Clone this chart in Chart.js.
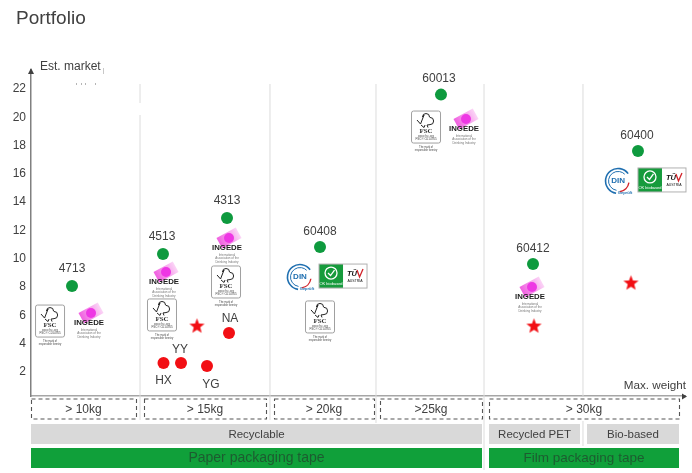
<!DOCTYPE html>
<html><head><meta charset="utf-8">
<script src="https://cdn.jsdelivr.net/npm/chart.js@4"></script>
<style>html,body{margin:0;padding:0;background:#fff}canvas{display:block}</style>
</head><body><canvas id="c" width="692" height="473" style="width:692px;height:473px"></canvas>
<script>
const yTicks=[2,4,6,8,10,12,14,16,18,20,22];
const columnEdges=[16.67,36.54,52.75,69.27,84.4];
const productNames=['4713','4513','4313','60408','60013','60412','60400'];
const productX=[6.27,20.18,29.97,44.19,62.69,76.76,92.81];
const productY=[8.08,10.34,12.88,10.83,21.6,9.63,17.62];
const rivalNames=['HX','YY','YG','NA'];
const rivalX=[20.26,22.94,26.91,30.28];
const rivalY=[2.64,2.64,2.42,4.76];
const starX=[25.38,76.91,91.74];
const starY=[5.25,5.25,8.29];
const fscX=[2.91,20.03,29.82,44.19,60.4];
const fscY=[5.6,6.03,8.36,5.89,19.31];
const ingedeX=[8.87,20.34,29.97,66.21,76.3];
const ingedeY=[5.46,8.36,10.76,19.17,7.3];
const dinX=[41.13,89.76];
const dinY=[8.71,15.5];
const tuvX=[47.71,96.48];
const tuvY=[8.78,15.57];
const weightLabels=['> 10kg','> 15kg','> 20kg','>25kg','> 30kg'];
const materialLabels=['Recyclable','Recycled PET','Bio-based'];
const tapeLabels=['Paper packaging tape','Film packaging tape'];

const TXT='#404040', SANS='"Liberation Sans",Arial,sans-serif';
const starCanvas=document.createElement('canvas');
starCanvas.width=starCanvas.height=17;
(function(){const g=starCanvas.getContext('2d');g.fillStyle='#f20f14';g.beginPath();
 for(let i=0;i<10;i++){const r=i%2?3.4:8,a=-Math.PI/2+i*Math.PI/5;g.lineTo(8.5+r*Math.cos(a),8.8+r*Math.sin(a));}
 g.closePath();g.fill();})();
function pts(xs,ys){return xs.map((x,i)=>({x:x,y:ys[i]}));}
function text(g,s,x,y,font,color,align){g.font=font;g.fillStyle=color;g.textAlign=align||'center';g.textBaseline='middle';g.fillText(s,x,y);}
function tiny(g,s,x,y,size,color){g.save();g.translate(x,y);g.scale(size/8,size/8);text(g,s,0,0,'8px '+SANS,color);g.restore();}

function drawFSC(g,x,y){
 g.save();g.strokeStyle='#a0a0a0';g.lineWidth=1;g.fillStyle='#fff';
 g.beginPath();g.roundRect(x-14.5,y-16,29,32,2);g.fill();g.stroke();
 g.strokeStyle='#222';g.lineWidth=1;g.beginPath();
 g.moveTo(x-9,y-7);g.lineTo(x-5.5,y-3);g.lineTo(x-2,y-12);
 g.arc(x,y-10,3.5,Math.PI,0);g.arc(x+4,y-6,3.6,-Math.PI/2,Math.PI/2);
 g.lineTo(x+1,y-2);g.lineTo(x+2,y+0.5);g.moveTo(x-1,y-2);g.lineTo(x-2,y+0.5);g.lineTo(x-5,y-2);g.stroke();
 text(g,'FSC',x,y+4,'bold 7px "Liberation Serif",serif','#333');
 tiny(g,'www.fsc.org',x,y+9,3,'#555');tiny(g,'FSC® C014765',x,y+12.5,3,'#444');
 tiny(g,'The mark of',x,y+20,2.6,'#444');tiny(g,'responsible forestry',x,y+23,2.6,'#444');
 g.restore();
}
function drawIngede(g,x,y){
 g.save();g.translate(x+2,y-10);g.rotate(-0.5);
 const gr=g.createLinearGradient(-11,0,11,0);gr.addColorStop(0,'#f05fe0');gr.addColorStop(1,'#fbd5f6');
 g.fillStyle=gr;g.fillRect(-11,-6,22,12);g.restore();
 g.fillStyle='#ee37e4';g.beginPath();g.arc(x+2,y-10,5,0,7);g.fill();
 text(g,'INGEDE',x,y,'bold 7.8px '+SANS,'#1c1c1c');
 tiny(g,'International',x,y+7,3,'#777');tiny(g,'Association of the',x,y+10.5,3,'#777');tiny(g,'Deinking Industry',x,y+14,3,'#777');
}
function drawDIN(g,x,y){
 g.save();g.lineWidth=1.6;g.strokeStyle='#1f6fb0';
 g.beginPath();g.arc(x,y,12.5,Math.PI*0.55,Math.PI*1.8);g.stroke();
 g.lineWidth=1;g.beginPath();g.arc(x,y,9.5,Math.PI*0.55,Math.PI*1.75);g.stroke();
 g.strokeStyle='#d2232a';g.lineWidth=1.4;g.beginPath();g.arc(x,y,11,Math.PI*0.05,Math.PI*0.45);g.stroke();
 text(g,'DIN',x,y,'bold 8px '+SANS,'#1f6fb0');
 text(g,'Geprüft',x+7,y+12,'bold 4px '+SANS,'#1f6fb0');g.restore();
}
function drawTUV(g,x,y){
 g.save();g.fillStyle='#fff';g.fillRect(x-24,y-12,48,24);
 g.fillStyle='#169b3c';g.fillRect(x-24,y-12,24,24);
 g.strokeStyle='#b0b0b0';g.lineWidth=1;g.strokeRect(x-24,y-12,48,24);
 g.strokeStyle='#fff';g.lineWidth=1.3;g.beginPath();g.arc(x-12,y-3,6,0,7);g.stroke();
 g.beginPath();g.moveTo(x-15,y-3);g.lineTo(x-12.5,y-0.5);g.lineTo(x-8.5,y-6);g.stroke();
 tiny(g,'OK biobased',x-12,y+8,4,'#fff');
 text(g,'TÜ',x+9,y-2,'italic bold 7.5px '+SANS,'#111');
 g.strokeStyle='#d2232a';g.lineWidth=1.3;g.beginPath();g.moveTo(x+14,y-6);g.lineTo(x+16.5,y+1);g.lineTo(x+20,y-7);g.stroke();
 tiny(g,'AUSTRIA',x+12,y+5,3.5,'#111');g.restore();
}
const overlay={id:'overlay',
 beforeDatasetsDraw(c){
  const g=c.ctx,X=c.scales.x,b=c.chartArea.bottom;
  const ends=[b+24,b+24,b+27,b+74,b];
  g.save();g.strokeStyle='#dcdcdc';g.lineWidth=1;
  columnEdges.forEach((e,i)=>{const p=X.getPixelForValue(e);g.beginPath();g.moveTo(p,84);g.lineTo(p,ends[i]);g.stroke();});
  const p5=X.getPixelForValue(columnEdges[4]);g.beginPath();g.moveTo(p5,421);g.lineTo(p5,446);g.stroke();
  g.fillStyle='#fff';g.fillRect(X.getPixelForValue(columnEdges[0])-2,103,4,12);
  g.restore();
 },
 afterDatasetsDraw(c){
  const g=c.ctx,X=c.scales.x,Y=c.scales.y,L=c.chartArea.left;
  const px=v=>X.getPixelForValue(v),py=v=>Y.getPixelForValue(v);
  fscX.forEach((x,i)=>drawFSC(g,px(x),py(fscY[i])));
  ingedeX.forEach((x,i)=>drawIngede(g,px(x),py(ingedeY[i])));
  dinX.forEach((x,i)=>drawDIN(g,px(x),py(dinY[i])));
  tuvX.forEach((x,i)=>drawTUV(g,px(x),py(tuvY[i])));
  const f='12px '+SANS;
  const offs=[[0,-17.5],[-1,-17.5],[0,-17.5],[0,-15.5],[-2,-15.5],[0,-15.5],[-1,-15.5]];
  productNames.forEach((n,i)=>text(g,n,px(productX[i])+offs[i][0],py(productY[i])+offs[i][1],f,TXT));
  const ro=[[0,17.5],[-1,-13.5],[4,18.5],[1,-14.5]];
  rivalNames.forEach((n,i)=>text(g,n,px(rivalX[i])+ro[i][0],py(rivalY[i])+ro[i][1],f,TXT));
  g.fillStyle='#404040';
  g.beginPath();g.moveTo(L,68);g.lineTo(L-3,74);g.lineTo(L+3,74);g.fill();
  g.beginPath();g.moveTo(687,396.5);g.lineTo(682,393.5);g.lineTo(682,399.5);g.fill();
  text(g,'Est. market',40,67,'12px '+SANS,TXT,'left');
  g.fillStyle='#c8c8c8';g.fillRect(103,68,1,6);
  g.fillStyle='#b5b5b5';[76,81,85,95].forEach(x=>g.fillRect(x,83,1,2));
  text(g,'Max. weight',686,386,'11.7px '+SANS,TXT,'right');
  text(g,'Portfolio',16,19,'19px '+SANS,TXT,'left');
  const boxes=[[31,136],[144,266],[274,374],[380,482],[489,679]];
  g.save();g.strokeStyle='#555';g.lineWidth=1.1;g.setLineDash([4,3]);
  boxes.forEach((r,i)=>{g.strokeRect(r[0]+.5,399,r[1]-r[0],20);
   text(g,weightLabels[i],(r[0]+r[1])/2,410,'12px '+SANS,TXT);});
  g.restore();
  [[31,482],[489,580],[587,679]].forEach((r,i)=>{g.fillStyle='#d9d9d9';g.fillRect(r[0],424,r[1]-r[0],20);
   text(g,materialLabels[i],(r[0]+r[1])/2,434.5,'11.5px '+SANS,TXT);});
  [[31,482],[489,679]].forEach((r,i)=>{g.fillStyle='#10a03a';g.fillRect(r[0],448,r[1]-r[0],20);
   text(g,tapeLabels[i],(r[0]+r[1])/2,458.5,(i?'13.5':'14')+'px '+SANS,'#1d5c30');});
 }
};
new Chart(document.getElementById('c'),{
 type:'scatter',
 data:{datasets:[
  {data:pts(productX,productY),backgroundColor:'#0e9a3e',pointRadius:6,pointHoverRadius:6,borderWidth:0},
  {data:pts(rivalX,rivalY),backgroundColor:'#f20f14',pointRadius:6,pointHoverRadius:6,borderWidth:0},
  {data:pts(starX,starY),pointStyle:starCanvas}
 ]},
 plugins:[overlay],
 options:{responsive:false,animation:false,devicePixelRatio:1,
  layout:{padding:{top:70,right:7,bottom:77,left:0}},
  plugins:{legend:{display:false},tooltip:{enabled:false}},
  scales:{
   x:{type:'linear',min:0,max:100,grid:{display:false,drawTicks:false},border:{color:'#a6a6a6',width:1.5},ticks:{display:false},
      afterFit(a){a.height=0;}},
   y:{type:'linear',min:0.304,max:23.34,grid:{display:false,drawTicks:false},border:{color:'#808080',width:1.5},
      afterBuildTicks(a){a.ticks=yTicks.map(v=>({value:v}));},
      afterFit(a){a.width=31;},
      ticks:{padding:5,color:'#404040',font:{family:SANS,size:12},autoSkip:false,maxRotation:0}}
  }}
});
</script></body></html>
